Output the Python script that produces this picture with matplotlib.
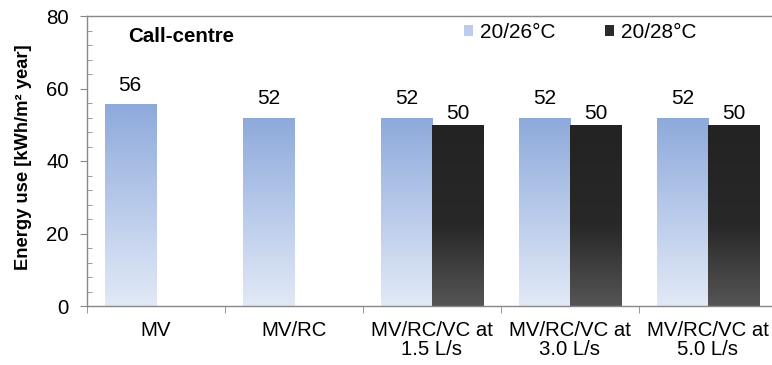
import numpy as np
import matplotlib
matplotlib.use("Agg")
import matplotlib.pyplot as plt
from matplotlib.colors import LinearSegmentedColormap
from matplotlib.patches import Rectangle
from matplotlib.ticker import MultipleLocator, FixedLocator

plt.rcParams['font.family'] = ['Liberation Sans', 'DejaVu Sans']

categories = ["MV", "MV/RC", "MV/RC/VC at\n1.5 L/s", "MV/RC/VC at\n3.0 L/s", "MV/RC/VC at\n5.0 L/s"]
series_names = ["20/26°C", "20/28°C"]
values_26 = [55.5, 51.8, 51.8, 51.8, 51.8]
values_28 = [None, None, 49.7, 49.7, 49.7]
title = "Call-centre"
ylabel = "Energy use [kWh/m² year]"

W, H = 772, 365
fig = plt.figure(figsize=(W / 100, H / 100), dpi=100)
ax = fig.add_axes([86.7 / W, (H - 306) / H, (777 - 86.7) / W, 290 / H])

blue_cmap = LinearSegmentedColormap.from_list("b", ["#8eaadb", "#b8caea", "#e2e9f6"])
black_cmap = LinearSegmentedColormap.from_list("k", [(0, "#232323"), (0.55, "#282828"), (1, "#555555")])

x = np.arange(len(categories))
w = 0.37
grad = np.linspace(0, 1, 256).reshape(-1, 1)

def grad_bars(xs, vals, cmap, offset):
    for xi, v in zip(xs, vals):
        if v is None:
            continue
        b = ax.bar(xi + offset, v, width=w, facecolor="none", edgecolor="none")[0]
        x0 = b.get_x()
        ax.imshow(grad, cmap=cmap, extent=[x0, x0 + w, 0, v], aspect="auto",
                  origin="upper", zorder=1, interpolation="bilinear")

grad_bars(x, values_26, blue_cmap, -w / 2)
grad_bars(x, values_28, black_cmap, w / 2)

for xi, v in zip(x, values_26):
    ax.annotate(f"{v:.0f}", (xi - w / 2, v), xytext=(0, 14), textcoords="offset points",
                ha="center", va="center", fontsize=15)
for xi, v in zip(x, values_28):
    if v is None:
        continue
    ax.annotate(f"{v:.0f}", (xi + w / 2, v), xytext=(0, 9), textcoords="offset points",
                ha="center", va="center", fontsize=15)

ax.set_xlim(-0.5, len(categories) - 0.5)
ax.set_ylim(0, 80)
ax.yaxis.set_major_locator(MultipleLocator(20))
ax.yaxis.set_minor_locator(MultipleLocator(4))
ax.set_xticks(x)
ax.set_xticklabels(categories, fontsize=14.7, linespacing=1.0)
ax.xaxis.set_minor_locator(FixedLocator(np.arange(-0.5, len(categories), 1.0)))
ax.tick_params(axis="x", which="major", length=0, pad=10.5)
ax.tick_params(axis="x", which="minor", length=5, direction="out", color="#888888")
ax.tick_params(axis="y", which="major", length=5, direction="out", color="#888888",
               labelsize=14.7, pad=8)
ax.tick_params(axis="y", which="minor", length=3.5, direction="in", color="#888888")

for s in ["left", "top", "bottom"]:
    ax.spines[s].set_color("#888888")
    ax.spines[s].set_linewidth(1.0)
ax.spines["right"].set_visible(False)

ax.set_ylabel(ylabel, fontsize=13.2, fontweight="bold")
ax.yaxis.set_label_coords((32 - 86.7) / 690.3, (306 - 157.5) / 290)
ax.text((128 - 86.7) / 690.3, (306 - 37) / 290, title, transform=ax.transAxes,
        fontsize=14.8, fontweight="bold", ha="left", va="center")

handles = [Rectangle((0, 0), 1, 1, facecolor="#bccdec", edgecolor="none"),
           Rectangle((0, 0), 1, 1, facecolor="#2a2a2a", edgecolor="none")]
ax.legend(handles, series_names, loc="center left",
          bbox_to_anchor=((464 - 86.7) / 690.3, (306 - 32) / 290), ncol=2,
          frameon=False, fontsize=15, handlelength=0.43, handleheight=0.43,
          handletextpad=0.33, columnspacing=2.4, borderpad=0, borderaxespad=0)

fig.savefig("out.png", dpi=100)
